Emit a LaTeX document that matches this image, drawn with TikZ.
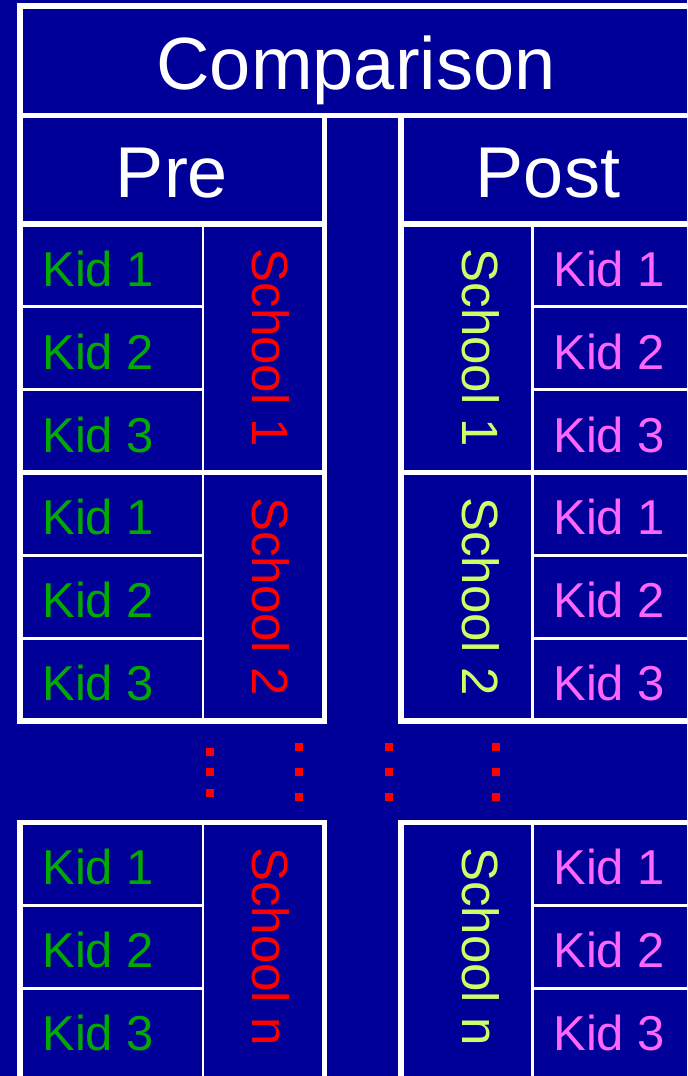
\documentclass[tikz,border=0pt]{standalone}
\usepackage{fontspec}
\setmainfont{Liberation Sans}
\usepackage{xcolor}
\definecolor{slide}{RGB}{0,0,153}
\definecolor{kidgreen}{RGB}{0,170,0}
\definecolor{kidpink}{RGB}{255,102,255}
\definecolor{schoollime}{RGB}{204,255,102}
\tikzset{
  bigline/.style={draw=white,line width=2.8pt},
  cellline/.style={draw=white,line width=1.2pt},
  headtxt/.style={text=white,font=\fontsize{36}{40}\selectfont,anchor=base,inner sep=0pt},
  kidpre/.style={text=kidgreen,font=\fontsize{24.5}{28}\selectfont,anchor=base west,inner sep=0pt},
  kidpost/.style={text=kidpink,font=\fontsize{24.5}{28}\selectfont,anchor=base west,inner sep=0pt},
  schpre/.style={text=red,rotate=-90,font=\fontsize{25.5}{28}\selectfont,inner sep=0pt},
  schpost/.style={text=schoollime,rotate=-90,font=\fontsize{25.5}{28}\selectfont,inner sep=0pt},
  ell/.style={fill=red}
}
\begin{document}
\begin{tikzpicture}[x=0.5pt,y=-0.5pt]
\fill[slide](0,0)rectangle(687,1076);
\useasboundingbox(0,0)rectangle(687,1076);
\clip(0,0)rectangle(687,1076);
% comparison header
\draw[bigline](20,3)--(20,721);
\draw[bigline](20,6)--(700,6);
\draw[bigline](20,115.5)--(700,115.5);
\node[headtxt,font=\fontsize{37}{40}\selectfont](cmp) at (356,89){Comparison};
% pre and post frames
\draw[bigline](20,115.5)rectangle(324.5,721);
\draw[bigline](401,115.5)rectangle(700,721);
\draw[bigline](20,822.5)rectangle(324.5,1100);
\draw[bigline](401,822.5)rectangle(700,1100);
\foreach \y in {224,472.5}{
  \draw[bigline](20,\y)--(324.5,\y);
  \draw[bigline](401,\y)--(700,\y);
}
\node[headtxt](pre) at (172,197){Pre};
\node[headtxt](post) at (548,197){Post};
% cell lines
\draw[cellline](203,224)--(203,721);
\draw[cellline](532.5,224)--(532.5,721);
\draw[cellline](203,822.5)--(203,1100);
\draw[cellline](532.5,822.5)--(532.5,1100);
\foreach \y in {306.5,389.5,555.5,638.5,905.5,988.5}{
  \draw[cellline](20,\y)--(203,\y);
  \draw[cellline](532.5,\y)--(700,\y);
}
% kids and schools
\foreach \b/\t in {1/224,2/472.5,n/822.5}{
  \foreach \r in {1,2,3}{
    \node[kidpre](kpre\b\r) at (42,{\t+62+83*(\r-1)}){Kid \r};
    \node[kidpost](kpost\b\r) at (553,{\t+62+83*(\r-1)}){Kid \r};
  }
  \node[schpre](spre\b) at (271,{\t+124}){School \b};
  \node[schpost](spost\b) at (481,{\t+124}){School \b};
}
% dots
\foreach \y in {752,772,793}
  \fill[ell](206,{\y-4})rectangle++(8,8);
\foreach \x in {299,389,496}
  \foreach \y in {747,772,797}
    \fill[ell]({\x-4},{\y-4})rectangle++(8,8);
\end{tikzpicture}
\end{document}
